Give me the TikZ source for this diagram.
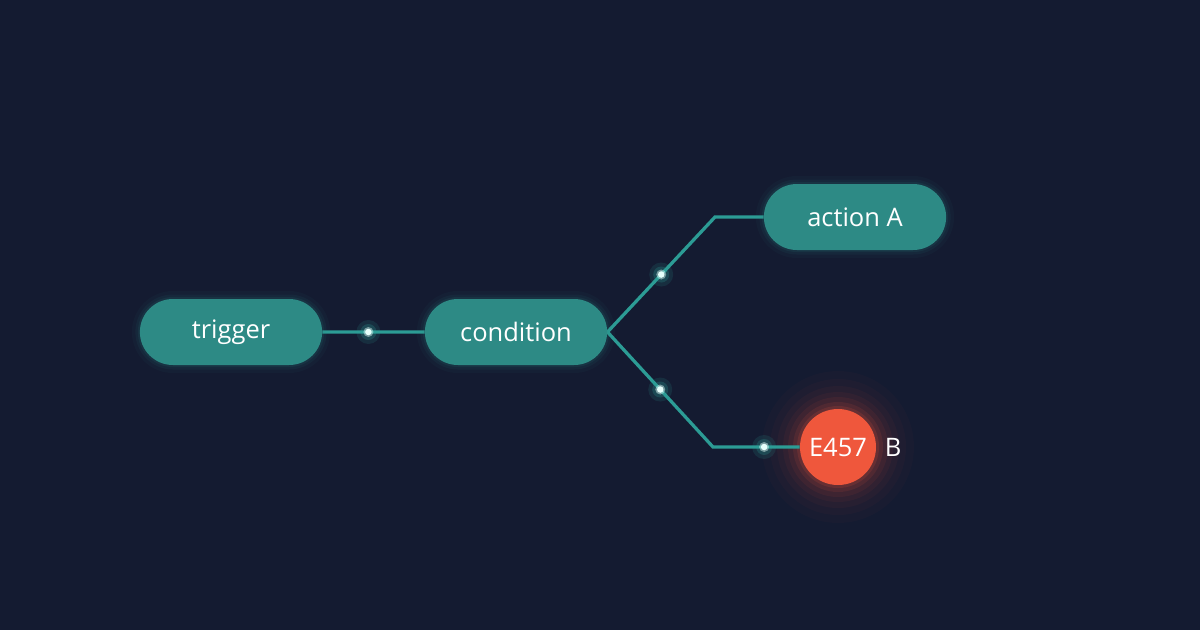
\documentclass[tikz,border=0pt]{standalone}
\usepackage{fontspec}
\setmainfont{Open Sans}
\usetikzlibrary{shapes.misc,backgrounds}
\definecolor{bg}{HTML}{141B31}
\definecolor{boxc}{HTML}{2D8A85}
\definecolor{wire}{HTML}{2C9C95}
\definecolor{spark}{HTML}{E6FFFB}
\definecolor{err}{HTML}{EF573C}
\begin{document}
\begin{tikzpicture}[x=0.02cm,y=-0.02cm,
    flow/.style={rounded rectangle, fill=boxc, text=white,
        minimum width=3.88cm, minimum height=1.32cm,
        font=\fontsize{14.5}{16}\selectfont,
        preaction={draw=boxc, line width=0.32cm, opacity=0.05},
        preaction={draw=boxc, line width=0.18cm, opacity=0.08},
        preaction={draw=boxc, line width=0.08cm, opacity=0.12}},
    errnode/.style={circle, fill=err, text=white, inner sep=0pt,
        minimum size=1.52cm, font=\fontsize{14.5}{16}\selectfont},
    tag/.style={text=white, inner sep=0pt, font=\fontsize{14.5}{16}\selectfont},
    link/.style={draw=wire, line width=0.065cm},
    spot/.style={circle, fill=spark, inner sep=0pt, minimum size=0.13cm}]
    \useasboundingbox (0,0) rectangle (1200,630);

    \node[flow] (trigger) at (231,332) {trigger};
    \node[flow] (condition) at (516,332) {condition};
    \node[flow] (actionA) at (855,217) {action A};
    \node[errnode] (err) at (838,447) {E457};
    \node[tag] (errB) at (893,447) {B};

    \coordinate (bendA) at (715,217);
    \coordinate (bendB) at (713,447);

    \begin{pgfonlayer}{background}
    \fill[bg] (0,0) rectangle (1200,630);
    \foreach \r/\o in {76/0.025, 68/0.03, 61/0.04, 55/0.05, 50/0.07, 45/0.1, 41/0.14}
        \fill[err, opacity=\o] (err.center) circle (\r);
    \draw[link] (trigger) -- coordinate[pos=0.45] (s1) (condition);
    \draw[link] (condition.east) -- coordinate[midway] (s2) (bendA) -- (actionA);
    \draw[link] (condition.east) -- coordinate[midway] (s3) (bendB)
        -- coordinate[pos=0.59] (s4) (err);
    \end{pgfonlayer}

    \foreach \s in {s1,s2,s3,s4} {
        \fill[wire, opacity=0.15] (\s) circle (12);
        \fill[wire, opacity=0.25] (\s) circle (8);
        \fill[spark, opacity=0.45] (\s) circle (5);
    }
    \node[spot] (spot1) at (s1) {};
    \node[spot] (spot2) at (s2) {};
    \node[spot] (spot3) at (s3) {};
    \node[spot] (spot4) at (s4) {};
\end{tikzpicture}
\end{document}
